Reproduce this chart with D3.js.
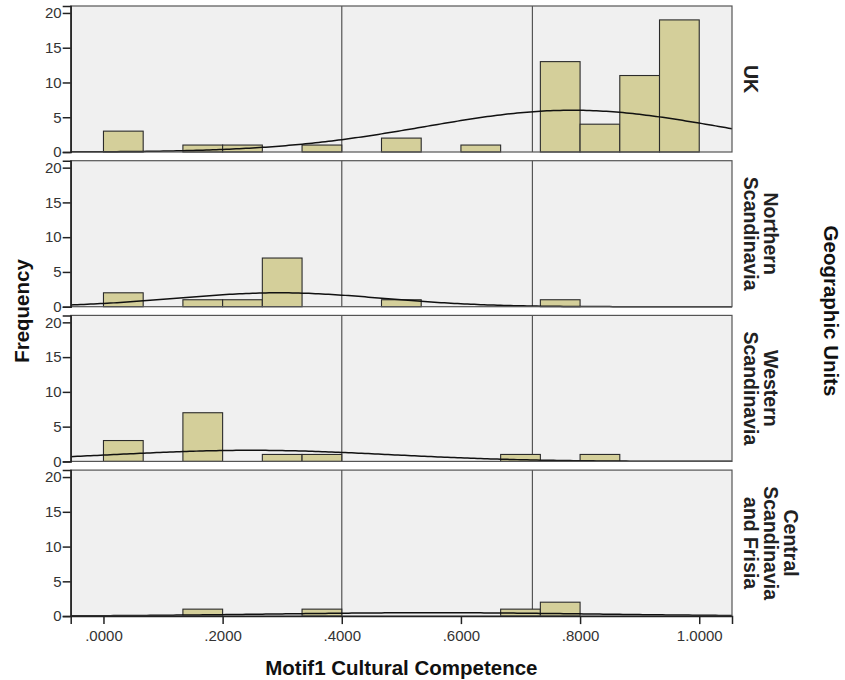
<!DOCTYPE html>
<html>
<head>
<meta charset="utf-8">
<script src="https://cdn.jsdelivr.net/npm/d3@7"></script>
<style>
  body { margin: 0; background: #fff; }
  text { font-family: "Liberation Sans", Arial, sans-serif; }
</style>
</head>
<body>
<svg id="chart" width="845" height="680"></svg>
<script>
// Geographic units, one panel each (top to bottom)
const units = [["UK"], ["Northern", "Scandinavia"], ["Western", "Scandinavia"], ["Central", "Scandinavia", "and Frisia"]];

// Bin edges: 15 bins of width 1/15 from 0 to 1
const binStarts = d3.range(15).map(i => i / 15);
const binWidth = 1 / 15;

// Frequencies per bin
const ukCounts       = [3, 0, 1, 1, 0, 1, 0, 2, 0, 1, 0, 13, 4, 11, 19];
const northCounts    = [2, 0, 1, 1, 7, 0, 0, 1, 0, 0, 0, 1, 0, 0, 0];
const westCounts     = [3, 0, 7, 0, 1, 1, 0, 0, 0, 0, 1, 0, 1, 0, 0];
const centralCounts  = [0, 0, 1, 0, 0, 1, 0, 0, 0, 0, 1, 2, 0, 0, 0];
const allCounts = [ukCounts, northCounts, westCounts, centralCounts];

// Normal curve parameters per panel (mean, sd)
const curveMeans = [0.787, 0.295, 0.248, 0.553];
const curveSds   = [0.248, 0.173, 0.233, 0.273];

// Reference lines
const refLines = [0.4, 0.72];

const xTicks = [0, 0.2, 0.4, 0.6, 0.8, 1.0];
const yTicks = [0, 5, 10, 15, 20];

const svg = d3.select("#chart");

const left = 70.7, right = 732;
const panelH = 146, panelStep = 154.7, firstTop = 6;

const x = d3.scaleLinear().domain([-0.055, 1.055]).range([left, right]);

allCounts.forEach((counts, i) => {
  const top = firstTop + i * panelStep;
  const y = d3.scaleLinear().domain([0, 21]).range([top + panelH, top]);
  const g = svg.append("g");

  // panel background
  g.append("rect")
    .attr("x", left).attr("y", top)
    .attr("width", right - left).attr("height", panelH)
    .attr("fill", "#f0f0f0");

  // reference lines
  g.selectAll(".ref")
    .data(refLines)
    .enter().append("line")
    .attr("x1", d => x(d)).attr("x2", d => x(d))
    .attr("y1", top).attr("y2", top + panelH)
    .attr("stroke", "#555").attr("stroke-width", 1.2);

  // bars
  const bins = binStarts.map((b, j) => ({ x0: b, x1: b + binWidth, n: counts[j] })).filter(d => d.n > 0);
  g.selectAll(".bar")
    .data(bins)
    .enter().append("rect")
    .attr("class", "bar")
    .attr("x", d => x(d.x0))
    .attr("width", d => x(d.x1) - x(d.x0))
    .attr("y", d => y(d.n))
    .attr("height", d => y(0) - y(d.n))
    .attr("fill", "#d4cf9a")
    .attr("stroke", "#2b2b2b").attr("stroke-width", 1.1);

  // normal curve scaled to counts
  const n = d3.sum(counts);
  const mu = curveMeans[i], sd = curveSds[i];
  const pts = d3.range(0, 201).map(k => {
    const xv = x.domain()[0] + (x.domain()[1] - x.domain()[0]) * k / 200;
    const dens = n * binWidth * Math.exp(-((xv - mu) ** 2) / (2 * sd * sd)) / (sd * Math.sqrt(2 * Math.PI));
    return [xv, dens];
  });
  g.append("path")
    .datum(pts)
    .attr("d", d3.line().x(d => x(d[0])).y(d => y(d[1])))
    .attr("fill", "none").attr("stroke", "#111").attr("stroke-width", 1.5);

  // panel frame
  g.append("rect")
    .attr("x", left).attr("y", top)
    .attr("width", right - left).attr("height", panelH)
    .attr("fill", "none").attr("stroke", "#555").attr("stroke-width", 1.2);

  // y axis
  const yAxis = g.append("g")
    .attr("transform", `translate(${left},0)`)
    .call(d3.axisLeft(y).tickValues(yTicks).tickSize(8).tickPadding(1));
  yAxis.select(".domain").attr("stroke", "#222").attr("stroke-width", 1.5);
  yAxis.selectAll(".tick line").attr("stroke", "#222").attr("stroke-width", 1.5);
  yAxis.selectAll("text").attr("font-size", 15).attr("fill", "#333")
    .attr("font-family", "Liberation Sans, Arial, sans-serif");

  // panel label
  const lines = units[i];
  const cy = top + panelH / 2;
  lines.forEach((t, k) => {
    const lx = 751 + (lines.length - 1 - k) * 20;
    svg.append("text")
      .attr("transform", `translate(${lx},${cy}) rotate(90)`)
      .attr("text-anchor", "middle").attr("dy", "0.35em")
      .attr("font-size", 19.5).attr("font-weight", "bold").attr("fill", "#222")
      .text(t);
  });

  // x axis on bottom panel only
  if (i === allCounts.length - 1) {
    const xAxis = g.append("g")
      .attr("transform", `translate(0,${top + panelH})`)
      .call(d3.axisBottom(x).tickValues(xTicks).tickSize(8).tickPadding(6).tickFormat(d => d3.format(".4f")(d).replace(/^0/, "")));
    xAxis.select(".domain").attr("stroke", "#222").attr("stroke-width", 1.5);
    xAxis.selectAll(".tick line").attr("stroke", "#222").attr("stroke-width", 1.5);
    xAxis.selectAll("text").attr("font-size", 15).attr("fill", "#333")
      .attr("font-family", "Liberation Sans, Arial, sans-serif");
  }
});

// axis titles
svg.append("text")
  .attr("x", (left + right) / 2).attr("y", 675)
  .attr("text-anchor", "middle")
  .attr("font-size", 20.5).attr("font-weight", "bold").attr("fill", "#111")
  .text("Motif1 Cultural Competence");

svg.append("text")
  .attr("transform", `translate(22,311) rotate(-90)`)
  .attr("text-anchor", "middle").attr("dy", "0.35em")
  .attr("font-size", 20.5).attr("font-weight", "bold").attr("fill", "#111")
  .text("Frequency");

svg.append("text")
  .attr("transform", `translate(831,311) rotate(90)`)
  .attr("text-anchor", "middle").attr("dy", "0.35em")
  .attr("font-size", 20.5).attr("font-weight", "bold").attr("fill", "#111")
  .text("Geographic Units");
</script>
</body>
</html>
